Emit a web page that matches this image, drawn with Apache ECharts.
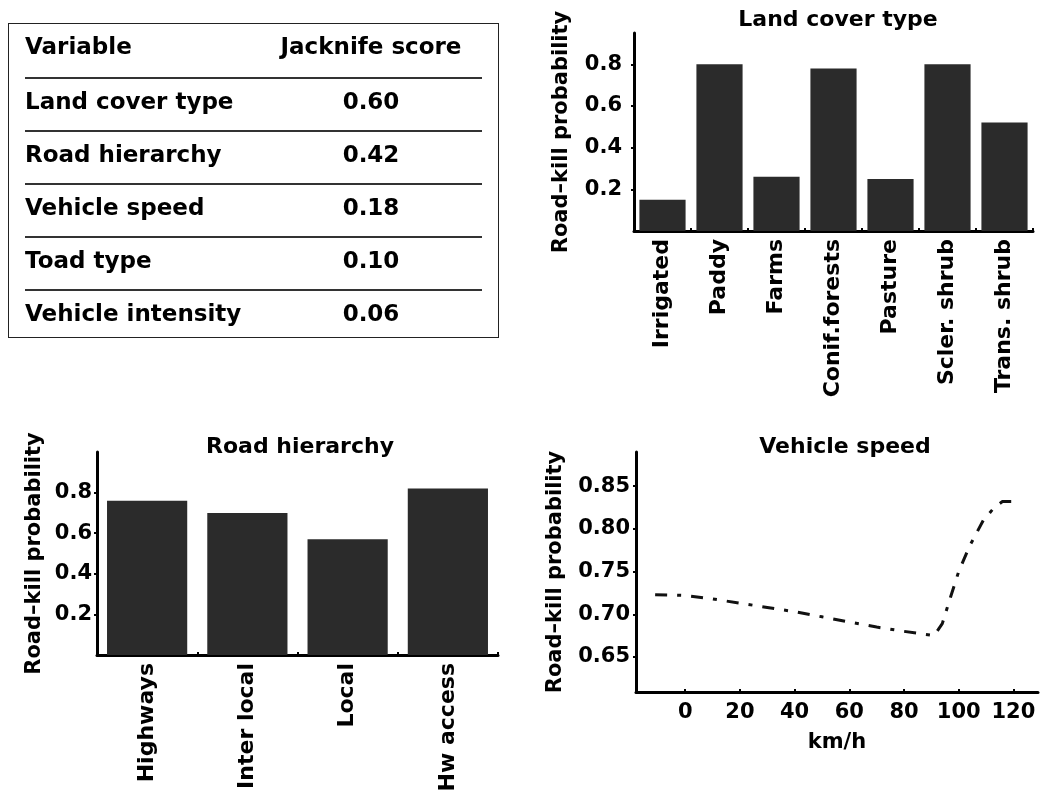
<!DOCTYPE html>
<html>
<head>
<meta charset="utf-8">
<script src="https://cdn.jsdelivr.net/npm/echarts@6/dist/echarts.min.js"></script>
<style>
  html, body { margin: 0; padding: 0; background: #fff; }
  #chart { position: absolute; left: 0; top: 0; width: 1043px; height: 805px; }
  #tbl { position: absolute; left: 8px; top: 23px; width: 489px; height: 313px; border: 1.5px solid #222; background: #fff;
         font-family: "DejaVu Sans", sans-serif; font-weight: bold; font-size: 23px; color: #000; }
  #tbl table { position: absolute; left: 16px; top: 0; width: 457px; border-collapse: collapse; }
  #tbl td { padding: 0; vertical-align: middle; white-space: nowrap; line-height: 1; }
  #tbl tr.hd td { height: 45px; padding-top: 0; padding-bottom: 8px; }
  #tbl tr.rw td { height: 45px; padding-bottom: 6px; border-top: 2px solid #333; }
  #tbl td.c2 { text-align: center; width: 222px; }
</style>
</head>
<body>
<div id="chart"></div>
<div id="tbl"><table id="t"></table></div>
<script>
// ---------- data ----------
const tableHeader = ["Variable", "Jacknife score"];
const tableVariables = ["Land cover type", "Road hierarchy", "Vehicle speed", "Toad type", "Vehicle intensity"];
const jackknifeScores = [0.60, 0.42, 0.18, 0.10, 0.06];

const landCoverCategories = ["Irrigated", "Paddy", "Farms", "Conif.forests", "Pasture", "Scler. shrub", "Trans. shrub"];
const landCoverValues = [0.15, 0.80, 0.26, 0.78, 0.25, 0.80, 0.52];

const roadCategories = ["Highways", "Inter local", "Local", "Hw access"];
const roadValues = [0.76, 0.70, 0.57, 0.82];

const speedKmh  = [-11, 0, 10, 20, 30, 40, 50, 60, 70, 80, 91, 94, 97, 100, 104, 109, 113, 116, 120];
const speedProb = [0.723, 0.722, 0.718, 0.713, 0.708, 0.703, 0.697, 0.691, 0.685, 0.680, 0.675, 0.689, 0.720, 0.750, 0.780, 0.810, 0.825, 0.832, 0.832];

const probTicks = [0.2, 0.4, 0.6, 0.8];
const speedProbTicks = [0.65, 0.70, 0.75, 0.80, 0.85];
const speedTicks = [0, 20, 40, 60, 80, 100, 120];

// ---------- table ----------
(function () {
  const t = document.getElementById('t');
  let html = '<tr class="hd"><td>' + tableHeader[0] + '</td><td class="c2">' + tableHeader[1] + '</td></tr>';
  tableVariables.forEach((v, i) => {
    html += '<tr class="rw"><td>' + v + '</td><td class="c2">' + jackknifeScores[i].toFixed(2) + '</td></tr>';
  });
  t.innerHTML = html;
})();

// ---------- chart ----------
const FONT = '"DejaVu Sans", sans-serif';
const txt = { fontFamily: FONT, fontWeight: 'bold', color: '#000', fontSize: 21 };
const axisLine = { show: true, onZero: false, lineStyle: { color: '#000', width: 3 } };
const barColor = '#2b2b2b';

const chart = echarts.init(document.getElementById('chart'), null, { renderer: 'canvas' });

function catAxis(gridIndex, data) {
  return {
    type: 'category', gridIndex, data,
    axisLine, axisTick: { show: true, inside: true, length: 3, lineStyle: { color: '#000', width: 2 } },
    axisLabel: Object.assign({}, txt, { fontSize: 22, rotate: 90, margin: 8, interval: 0 }),
    splitLine: { show: false }
  };
}

const titleStyle = Object.assign({}, txt, { fontSize: 22 });
const nameStyle = Object.assign({}, txt, { fontSize: 21 });

const option = {
  animation: false,
  backgroundColor: '#fff',
  title: [
    { text: 'Land cover type', left: 833, top: 4, textAlign: 'center', textStyle: titleStyle },
    { text: 'Road hierarchy', left: 295, top: 431, textAlign: 'center', textStyle: titleStyle },
    { text: 'Vehicle speed', left: 840, top: 431, textAlign: 'center', textStyle: titleStyle }
  ],
  grid: [
    { left: 634, top: 33, width: 399, height: 198 },
    { left: 97, top: 452, width: 401, height: 203 },
    { left: 636, top: 452, width: 402, height: 240 }
  ],
  xAxis: [
    catAxis(0, landCoverCategories),
    catAxis(1, roadCategories),
    {
      type: 'value', gridIndex: 2, min: -18, max: 129,
      name: 'km/h', nameLocation: 'middle', nameGap: 40, nameTextStyle: nameStyle,
      axisLine,
      axisTick: { show: true, inside: true, length: 3, customValues: speedTicks, lineStyle: { color: '#000', width: 2 } },
      axisLabel: Object.assign({}, txt, { customValues: speedTicks, margin: 10 }),
      splitLine: { show: false }
    }
  ],
  yAxis: [
    {
      type: 'value', gridIndex: 0, min: 0, max: 0.95,
      name: 'Road–kill probability', nameLocation: 'middle', nameGap: 62, nameRotate: 90,
      nameTextStyle: nameStyle,
      axisLine, axisTick: { show: true, inside: false, length: 3, customValues: probTicks, lineStyle: { color: '#000', width: 2 } },
      axisLabel: Object.assign({}, txt, { customValues: probTicks, margin: 12, formatter: v => v.toFixed(1) }),
      splitLine: { show: false }
    },
    {
      type: 'value', gridIndex: 1, min: 0, max: 1.0,
      name: 'Road–kill probability', nameLocation: 'middle', nameGap: 52, nameRotate: 90,
      nameTextStyle: nameStyle,
      axisLine, axisTick: { show: true, inside: false, length: 3, customValues: probTicks, lineStyle: { color: '#000', width: 2 } },
      axisLabel: Object.assign({}, txt, { customValues: probTicks, margin: 5, formatter: v => v.toFixed(1) }),
      splitLine: { show: false }
    },
    {
      type: 'value', gridIndex: 2, min: 0.609, max: 0.89,
      name: 'Road–kill probability', nameLocation: 'middle', nameGap: 70, nameRotate: 90,
      nameTextStyle: nameStyle,
      axisLine, axisTick: { show: true, inside: false, length: 3, customValues: speedProbTicks, lineStyle: { color: '#000', width: 2 } },
      axisLabel: Object.assign({}, txt, { customValues: speedProbTicks, margin: 6, formatter: v => v.toFixed(2) }),
      splitLine: { show: false }
    }
  ],
  series: [
    {
      type: 'bar', xAxisIndex: 0, yAxisIndex: 0, data: landCoverValues,
      barCategoryGap: '19%', itemStyle: { color: barColor }
    },
    {
      type: 'bar', xAxisIndex: 1, yAxisIndex: 1, data: roadValues,
      barCategoryGap: '20%', itemStyle: { color: barColor }
    },
    {
      type: 'line', xAxisIndex: 2, yAxisIndex: 2,
      data: speedKmh.map((x, i) => [x, speedProb[i]]),
      symbol: 'none', smooth: false,
      lineStyle: { color: '#111', width: 3, type: [12, 10, 4, 10] }
    }
  ]
};
chart.setOption(option);
</script>
</body>
</html>
